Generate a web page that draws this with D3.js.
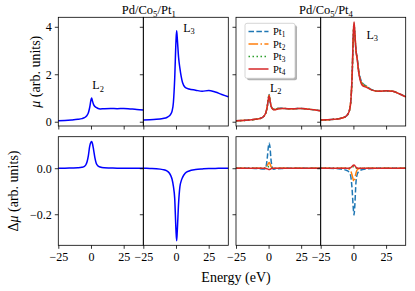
<!DOCTYPE html>
<html><head><meta charset="utf-8">
<script src="https://cdn.jsdelivr.net/npm/d3@7"></script>
<style>body{margin:0;background:#fff}svg{display:block}text{font-family:"Liberation Serif",serif;fill:#000}</style>
</head><body>
<script>
// ---------------- data ----------------
const energy = [-25,-20,-15,-10,-7,-5,-4,-3,-2,-1,0,0.5,1,2,3,4,5,7,10,15,20,25,30,35,40];

// Pd/Co5/Pt1  (top: mu, bottom: delta mu)
const muPt1L2 = [0.04,0.05,0.07,0.10,0.13,0.17,0.21,0.27,0.38,0.60,0.92,1.00,0.90,0.72,0.64,0.60,0.57,0.54,0.55,0.56,0.55,0.56,0.54,0.52,0.49];
const muPt1L3 = [0.07,0.08,0.10,0.14,0.18,0.25,0.32,0.45,0.80,1.80,3.40,3.83,3.50,2.70,2.25,1.90,1.65,1.45,1.38,1.33,1.28,1.32,1.25,1.15,1.05];
const dmuPt1L2 = [0,0,0.001,0.002,0.004,0.008,0.014,0.028,0.055,0.095,0.113,0.116,0.110,0.080,0.045,0.022,0.012,0.005,0.002,0.001,0,0,0,0,0];
const dmuPt1L3 = [0,-0.001,-0.002,-0.006,-0.012,-0.022,-0.032,-0.048,-0.078,-0.13,-0.27,-0.315,-0.27,-0.15,-0.08,-0.055,-0.04,-0.022,-0.012,-0.006,-0.003,-0.001,-0.001,0,0];

// Pd/Co5/Pt4, L2 edge
const muL2Pt1 = [0.04,0.05,0.07,0.10,0.13,0.17,0.21,0.28,0.40,0.65,1.05,1.15,0.95,0.66,0.56,0.53,0.53,0.57,0.57,0.55,0.55,0.56,0.53,0.50,0.46];
const muL2Pt2 = [0.04,0.05,0.07,0.10,0.13,0.17,0.21,0.28,0.40,0.65,1.04,1.13,0.94,0.66,0.56,0.52,0.52,0.56,0.56,0.55,0.55,0.56,0.53,0.50,0.46];
const muL2Pt3 = [0.04,0.05,0.07,0.10,0.13,0.17,0.21,0.28,0.40,0.64,1.02,1.10,0.93,0.65,0.55,0.51,0.51,0.55,0.56,0.55,0.55,0.56,0.53,0.50,0.46];
const muL2Pt4 = [0.04,0.05,0.07,0.10,0.13,0.17,0.21,0.28,0.40,0.64,1.01,1.08,0.92,0.64,0.54,0.50,0.50,0.54,0.56,0.55,0.55,0.56,0.53,0.50,0.46];
// Pd/Co5/Pt4, L3 edge
const muL3Pt1 = [0.07,0.08,0.10,0.14,0.19,0.26,0.34,0.48,0.85,1.85,3.65,4.00,3.70,3.00,2.65,2.20,1.90,1.62,1.50,1.33,1.28,1.30,1.28,1.18,1.05];
const muL3Pt2 = [0.07,0.08,0.10,0.14,0.19,0.26,0.34,0.48,0.85,1.87,3.72,4.08,3.78,3.00,2.62,2.15,1.85,1.58,1.48,1.32,1.28,1.30,1.28,1.18,1.05];
const muL3Pt3 = [0.07,0.08,0.10,0.14,0.19,0.26,0.34,0.48,0.85,1.88,3.76,4.15,3.82,3.00,2.62,2.12,1.83,1.60,1.48,1.32,1.28,1.30,1.28,1.18,1.05];
const muL3Pt4 = [0.07,0.08,0.10,0.14,0.19,0.26,0.34,0.48,0.85,1.90,3.80,4.20,3.85,3.00,2.60,2.10,1.80,1.52,1.45,1.32,1.28,1.30,1.28,1.18,1.05];
// delta mu, Pt4 sample
const dL2Pt1 = [0,0,0,-0.001,-0.002,-0.003,-0.003,-0.003,0.005,0.045,0.100,0.110,0.095,0.030,0,-0.004,-0.003,-0.002,-0.001,0,0,0,0,0,0];
const dL2Pt2 = [0,0,0,0,0,0,0,0.001,0.003,0.012,0.022,0.025,0.020,0.006,0.001,0,0,0,0,0,0,0,0,0,0];
const dL2Pt3 = [0,0,0,0,0,0,0,0,0.001,0.004,0.007,0.008,0.006,0.002,0,0,0,0,0,0,0,0,0,0,0];
const dL2Pt4 = [0,0,0,0,0,0,0,0,-0.001,-0.003,-0.005,-0.006,-0.005,-0.002,0,0,0,0,0,0,0,0,0,0,0];
const dL3Pt1 = [0,0,-0.001,-0.003,-0.006,-0.010,-0.013,-0.020,-0.035,-0.090,-0.180,-0.203,-0.170,-0.060,-0.025,-0.015,-0.010,-0.006,-0.003,-0.001,0,0,0,0,0];
const dL3Pt2 = [0,0,0,0,0,-0.001,-0.002,-0.005,-0.012,-0.030,-0.052,-0.058,-0.050,-0.020,-0.006,-0.002,-0.001,0,0,0,0,0,0,0,0];
const dL3Pt3 = [0,0,0,0,0,0,0,0,0.001,0.004,0.007,0.008,0.007,0.002,0,0,0,0,0,0,0,0,0,0,0];
const dL3Pt4 = [0,0,0,0,0,0,0,0.001,0.003,0.008,0.013,0.014,0.012,0.004,0.001,0,0,0,0,0,0,0,0,0,0];

const xTicks = [-25, 0, 25];
const xTickLabels = ["\u221225", "0", "25"];
const topYTicks = [0, 2, 4];
const topYTickLabels = ["0", "2", "4"];
const botYTicks = [-0.2, 0.0];
const botYTickLabels = ["\u22120.2", "0.0"];
const seriesNames = ["Pt1", "Pt2", "Pt3", "Pt4"];
const seriesColors = ["#1f77b4", "#ff7f0e", "#2ca02c", "#d62728"];
const seriesDash = ["5.5,2.4", "9.6,2.4,1.5,2.4", "1.5,2.5", null];

// ---------------- layout ----------------
const W = 415, H = 291;
const svg = d3.select("body").append("svg").attr("width", W).attr("height", H);
const colX = [[58.3,143.3],[143.3,228.3],[236,320.7],[320.7,405.7]];
const rowY = [[17.3,126],[136.7,245.3]];
const xDomain = [-25, 40];
const yDomains = [[-0.18, 4.40], [-0.335, 0.137]];

const panels = [];
for (let r = 0; r < 2; r++) for (let c = 0; c < 4; c++) {
  const x = d3.scaleLinear().domain(xDomain).range(colX[c]);
  const y = d3.scaleLinear().domain(yDomains[r]).range([rowY[r][1], rowY[r][0]]);
  panels.push({r, c, x, y});
}
const P = (r, c) => panels[r * 4 + c];

function drawLine(p, vals, color, dash, w) {
  const line = d3.line().x((d, i) => p.x(energy[i])).y(d => p.y(d)).curve(d3.curveMonotoneX);
  svg.append("path").datum(vals).attr("d", line)
    .attr("fill", "none").attr("stroke", color).attr("stroke-width", w || 1.5)
    .attr("stroke-dasharray", dash).attr("stroke-linejoin", "round");
}

// curves
drawLine(P(0,0), muPt1L2, "#0000ff");
drawLine(P(0,1), muPt1L3, "#0000ff");
drawLine(P(1,0), dmuPt1L2, "#0000ff");
drawLine(P(1,1), dmuPt1L3, "#0000ff");
[muL2Pt1, muL2Pt2, muL2Pt3, muL2Pt4].forEach((v, i) => drawLine(P(0,2), v, seriesColors[i], seriesDash[i]));
[muL3Pt1, muL3Pt2, muL3Pt3, muL3Pt4].forEach((v, i) => drawLine(P(0,3), v, seriesColors[i], seriesDash[i]));
[dL2Pt1, dL2Pt2, dL2Pt3, dL2Pt4].forEach((v, i) => drawLine(P(1,2), v, seriesColors[i], seriesDash[i]));
[dL3Pt1, dL3Pt2, dL3Pt3, dL3Pt4].forEach((v, i) => drawLine(P(1,3), v, seriesColors[i], seriesDash[i]));

// axes
panels.forEach(p => {
  const [x0, x1] = p.x.range();
  const [y1, y0] = p.y.range();
  const yt = p.r === 0 ? topYTicks : botYTicks;
  const ytl = p.r === 0 ? topYTickLabels : botYTickLabels;
  const showY = p.c === 0;
  const ya = d3.axisLeft(p.y).tickValues(yt).tickSize(3.5).tickPadding(3)
    .tickFormat((d, i) => showY ? ytl[i] : "");
  const xa = d3.axisBottom(p.x).tickValues(xTicks).tickSize(3.5).tickPadding(3.5)
    .tickFormat((d, i) => p.r === 1 ? xTickLabels[i] : "");
  const gy = svg.append("g").attr("transform", `translate(${x0},0)`).call(ya);
  const gx = svg.append("g").attr("transform", `translate(0,${y1})`).call(xa);
  [gx, gy].forEach(g => {
    g.select(".domain").remove();
    g.selectAll("line").attr("stroke", "#000").attr("stroke-width", 0.8);
    g.selectAll("text").attr("font-family", "Liberation Serif, serif").attr("font-size", 12).attr("fill", "#000");
  });
  svg.append("rect").attr("x", x0).attr("y", y0).attr("width", x1 - x0).attr("height", y1 - y0)
    .attr("fill", "none").attr("stroke", "#000").attr("stroke-width", 0.8);
});

// text helper with subscripts
function label(x, y, parts, size, anchor) {
  const t = svg.append("text").attr("x", x).attr("y", y).attr("font-size", size)
    .attr("text-anchor", anchor || "start");
  let prevSub = false;
  parts.forEach(([txt, sub]) => {
    const ts = t.append("tspan").text(txt);
    if (sub && !prevSub) ts.attr("font-size", size * 0.7).attr("dy", size * 0.22);
    if (!sub && prevSub) ts.attr("dy", -size * 0.22);
    prevSub = sub;
  });
  return t;
}

// titles
label(148.8, 14, [["Pd/Co",0],["5",1],["/Pt",0],["1",1]], 12.5, "middle");
label(326, 14, [["Pd/Co",0],["5",1],["/Pt",0],["4",1]], 12.5, "middle");

// edge annotations (data coords)
label(P(0,0).x(1), P(0,0).y(1.37), [["L",0],["2",1]], 12);
label(P(0,1).x(5.5), P(0,1).y(3.8), [["L",0],["3",1]], 12);
label(P(0,2).x(1), P(0,2).y(1.27), [["L",0],["2",1]], 12);
label(P(0,3).x(10), P(0,3).y(3.5), [["L",0],["3",1]], 12);

// axis labels
svg.append("text").attr("x", 236).attr("y", 281.5).attr("font-size", 14).attr("text-anchor", "middle").text("Energy (eV)");
const yl1 = svg.append("text").attr("transform", "translate(40,71.7) rotate(-90)").attr("font-size", 14).attr("text-anchor", "middle");
yl1.append("tspan").attr("font-style", "italic").text("\u03bc");
yl1.append("tspan").text(" (arb. units)");
const yl2 = svg.append("text").attr("transform", "translate(18,191) rotate(-90)").attr("font-size", 14).attr("text-anchor", "middle");
yl2.append("tspan").text("\u0394");
yl2.append("tspan").attr("font-style", "italic").text("\u03bc");
yl2.append("tspan").text(" (arb. units)");

// legend
const lg = {x: 245, y: 23.3, w: 50, h: 55};
svg.append("rect").attr("x", lg.x + 2).attr("y", lg.y + 2).attr("width", lg.w).attr("height", lg.h)
  .attr("rx", 2).attr("fill", "#000").attr("fill-opacity", 0.3);
svg.append("rect").attr("x", lg.x).attr("y", lg.y).attr("width", lg.w).attr("height", lg.h)
  .attr("rx", 2).attr("fill", "#fff").attr("stroke", "#cccccc").attr("stroke-width", 0.8);
seriesNames.forEach((n, i) => {
  const yy = lg.y + 8.2 + i * 12.5;
  svg.append("line").attr("x1", lg.x + 3.5).attr("x2", lg.x + 23.5).attr("y1", yy).attr("y2", yy)
    .attr("stroke", seriesColors[i]).attr("stroke-width", 1.5).attr("stroke-dasharray", seriesDash[i]);
  label(lg.x + 28, yy + 3.5, [[n.slice(0, 2), 0], [n.slice(2), 1]], 10.5);
});
</script>
</body></html>
